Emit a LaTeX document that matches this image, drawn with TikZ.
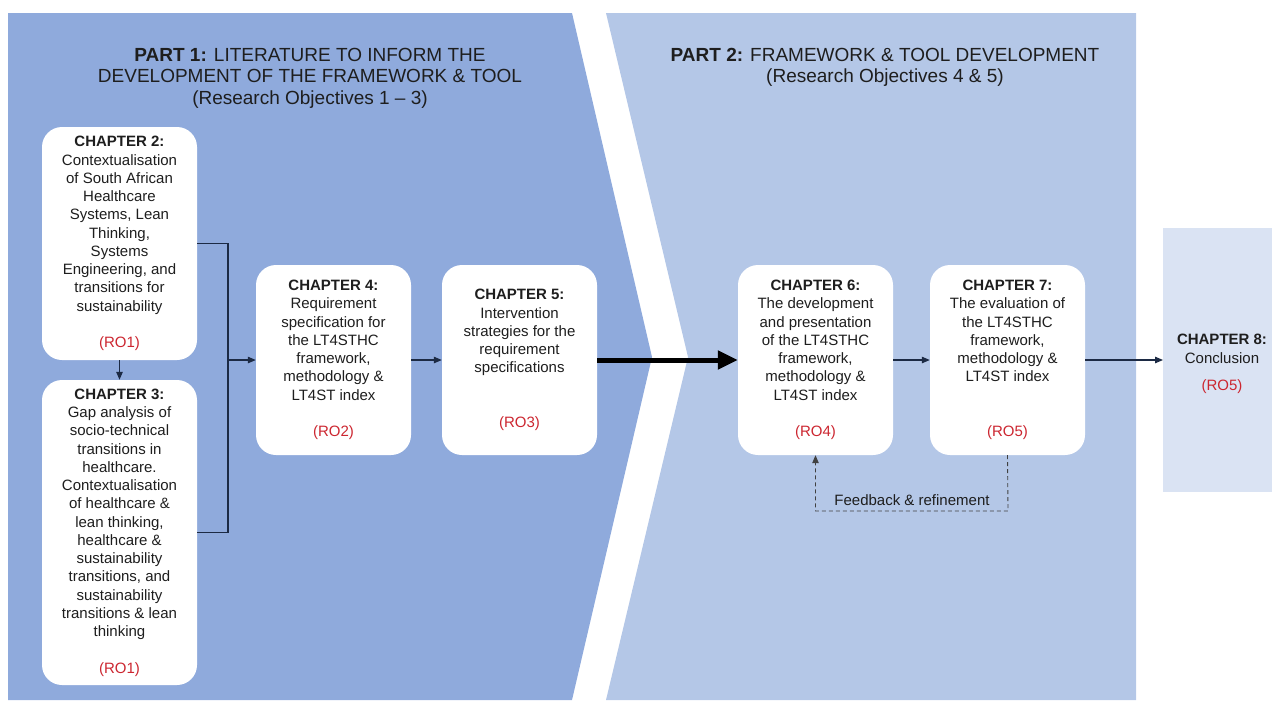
\documentclass[tikz,border=0pt]{standalone}
\usepackage{fontspec}
\setmainfont{Liberation Sans}
\usetikzlibrary{arrows.meta}
\definecolor{partone}{HTML}{8FAADC}
\definecolor{parttwo}{HTML}{B4C7E7}
\definecolor{conclbg}{HTML}{DAE3F3}
\definecolor{rored}{HTML}{CC2630}
\definecolor{linecol}{HTML}{1C2A44}
\definecolor{txt}{HTML}{1E1E1E}
\newcommand{\ro}[1]{\textcolor{rored}{(#1)}}

\begin{document}
\begin{tikzpicture}[x=1pt,y=-1pt,
  chapbox/.style={fill=white, rounded corners=20pt, minimum width=155pt,
    align=center, inner sep=0pt, text=txt,
    font=\fontsize{15}{18.25}\selectfont},
  parttitle/.style={align=center, text=txt, anchor=north, inner sep=0pt,
    font=\fontsize{19}{21.5}\selectfont},
  conn/.style={draw=linecol, line width=1.1pt},
  tip/.style={-{Triangle[length=8pt,width=6.5pt]}},
  bigtip/.style={-{Triangle[length=20pt,width=18pt]}},
  fb/.style={draw=black!75, line width=0.9pt, dash pattern=on 4pt off 3pt},
  lbl/.style={text=txt, font=\fontsize{15}{18}\selectfont, inner sep=0pt}]
\useasboundingbox (0,0) rectangle (1272,702);

% the two part panels and the conclusion panel
\fill[partone] (8,13) -- (572,13) -- (652,357) -- (572,700) -- (8,700) -- cycle;
\fill[parttwo] (606,13) -- (1136,13) -- (1136,700) -- (606,700) -- (688,357) -- cycle;
\fill[conclbg] (1163,228) rectangle (1272,492);

% panel headings
\node[parttitle] (t1) at (310,48) {\textbf{PART 1:} LITERATURE TO INFORM THE\\DEVELOPMENT OF THE FRAMEWORK \& TOOL\\(Research Objectives 1 – 3)};
\node[parttitle] (t2) at (885,48) {\textbf{PART 2:} FRAMEWORK \& TOOL DEVELOPMENT\\(Research Objectives 4 \& 5)};

% chapter boxes
\node[chapbox, minimum height=233pt] (ch2) at (119.5,243.5) {\textbf{CHAPTER 2:}\\Contextualisation\\of South African\\Healthcare\\Systems, Lean\\Thinking,\\Systems\\Engineering, and\\transitions for\\sustainability\\[18.25pt]\ro{RO1}};
\node[chapbox, minimum height=305pt] (ch3) at (119.5,532.5) {\textbf{CHAPTER 3:}\\Gap analysis of\\socio-technical\\transitions in\\healthcare.\\Contextualisation\\of healthcare \&\\lean thinking,\\healthcare \&\\sustainability\\transitions, and\\sustainability\\transitions \& lean\\thinking\\[18.25pt]\ro{RO1}};
\node[chapbox, minimum height=190pt] (ch4) at (333.5,360) {\textbf{CHAPTER 4:}\\Requirement\\specification for\\the LT4STHC\\framework,\\methodology \&\\LT4ST index\\[18.25pt]\ro{RO2}};
\node[chapbox, minimum height=190pt] (ch5) at (519.5,360) {\textbf{CHAPTER 5:}\\Intervention\\strategies for the\\requirement\\specifications\\[36.5pt]\ro{RO3}};
\node[chapbox, minimum height=190pt] (ch6) at (815.5,360) {\textbf{CHAPTER 6:}\\The development\\and presentation\\of the LT4STHC\\framework,\\methodology \&\\LT4ST index\\[18.25pt]\ro{RO4}};
\node[chapbox, minimum height=190pt] (ch7) at (1007.5,360) {\textbf{CHAPTER 7:}\\The evaluation of\\the LT4STHC\\framework,\\methodology \&\\LT4ST index\\[36.5pt]\ro{RO5}};
\node[align=center, inner sep=0pt, text=txt, font=\fontsize{15}{18.25}\selectfont] (ch8) at (1222,364) {\textbf{CHAPTER 8:}\\Conclusion\\[9pt]\ro{RO5}};

% connectors
\coordinate (brx) at (228,0);
\draw[conn] (ch2.east) -- (ch2.east -| brx) -- (ch3.east -| brx) -- (ch3.east);
\draw[conn,tip] (ch4.west -| brx) -- (ch4.west);
\draw[conn,tip] (ch2.south) -- (ch2.south |- ch3.north);
\draw[conn,tip] (ch4.east) -- (ch5.west);
\draw[draw=black, line width=5pt, bigtip] (ch5.east) -- (ch6.west);
\draw[conn,tip] (ch6.east) -- (ch7.west);
\coordinate (ch8in) at (1163,360);
\draw[conn,tip] (ch7.east) -- (ch8in);

% feedback loop
\coordinate (fbr) at (1008,511);
\draw[fb,tip] (ch7.south) -- (fbr) -| (ch6.south);
\node[lbl] (fbl) at (912,500) {Feedback \& refinement};
\end{tikzpicture}
\end{document}
